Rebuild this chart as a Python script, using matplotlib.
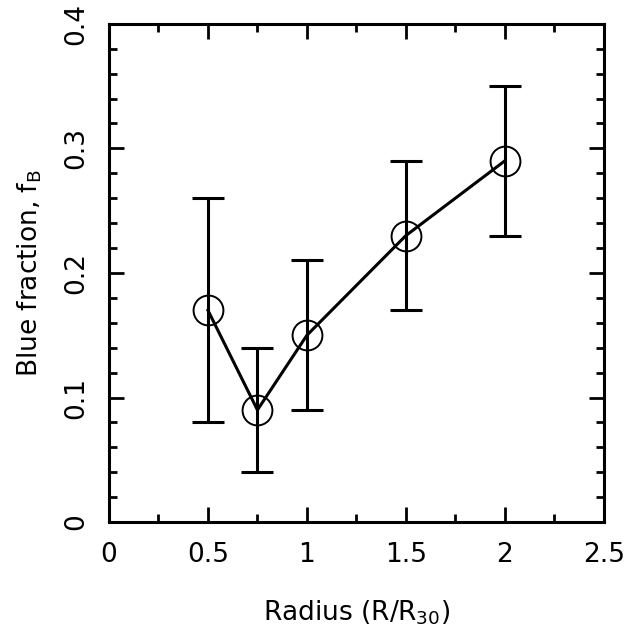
import numpy as np
import matplotlib
matplotlib.use("Agg")
import matplotlib.pyplot as plt

radius = [0.5, 0.75, 1.0, 1.5, 2.0]
frac = [0.17, 0.09, 0.15, 0.23, 0.29]
err_lo = [0.09, 0.05, 0.06, 0.06, 0.06]
err_hi = [0.09, 0.05, 0.06, 0.06, 0.06]

plt.rcParams['font.family'] = ['DejaVu Sans']
fig = plt.figure(figsize=(6.41, 6.43), dpi=100)
ax = fig.add_axes([0.170, 0.188, 0.772, 0.775])

ax.errorbar(radius, frac, yerr=[err_lo, err_hi], fmt='none', ecolor='black',
            elinewidth=2.2, capsize=11.5, capthick=2.2, zorder=2)
ax.plot(radius, frac, color='black', lw=2.2, zorder=3)
ax.plot(radius, frac, 'o', ms=21.5, mfc='none', mec='black', mew=1.4, zorder=4)

ax.set_xlim(0, 2.5)
ax.set_ylim(0, 0.4)
ax.set_xticks([0, 0.5, 1, 1.5, 2, 2.5])
ax.set_xticklabels(['0', '0.5', '1', '1.5', '2', '2.5'])
ax.set_xticks(np.arange(0, 2.51, 0.25), minor=True)
ax.set_yticks([0, 0.1, 0.2, 0.3, 0.4])
ax.set_yticklabels(['0', '0.1', '0.2', '0.3', '0.4'], rotation=90, va='center')
ax.set_yticks(np.arange(0, 0.401, 0.02), minor=True)

ax.tick_params(which='both', direction='in', top=True, right=True, width=2, labelsize=19)
ax.tick_params(which='major', length=11, pad=14)
ax.tick_params(which='minor', length=5.5)
for s in ax.spines.values():
    s.set_linewidth(2.2)

ax.set_xlabel(r'Radius (R/R$_{\mathregular{30}}$)', fontsize=19, labelpad=22)
ax.set_ylabel(r'Blue fraction, f$_{\mathregular{B}}$', fontsize=19, labelpad=14)

fig.savefig('out.png', dpi=100)
